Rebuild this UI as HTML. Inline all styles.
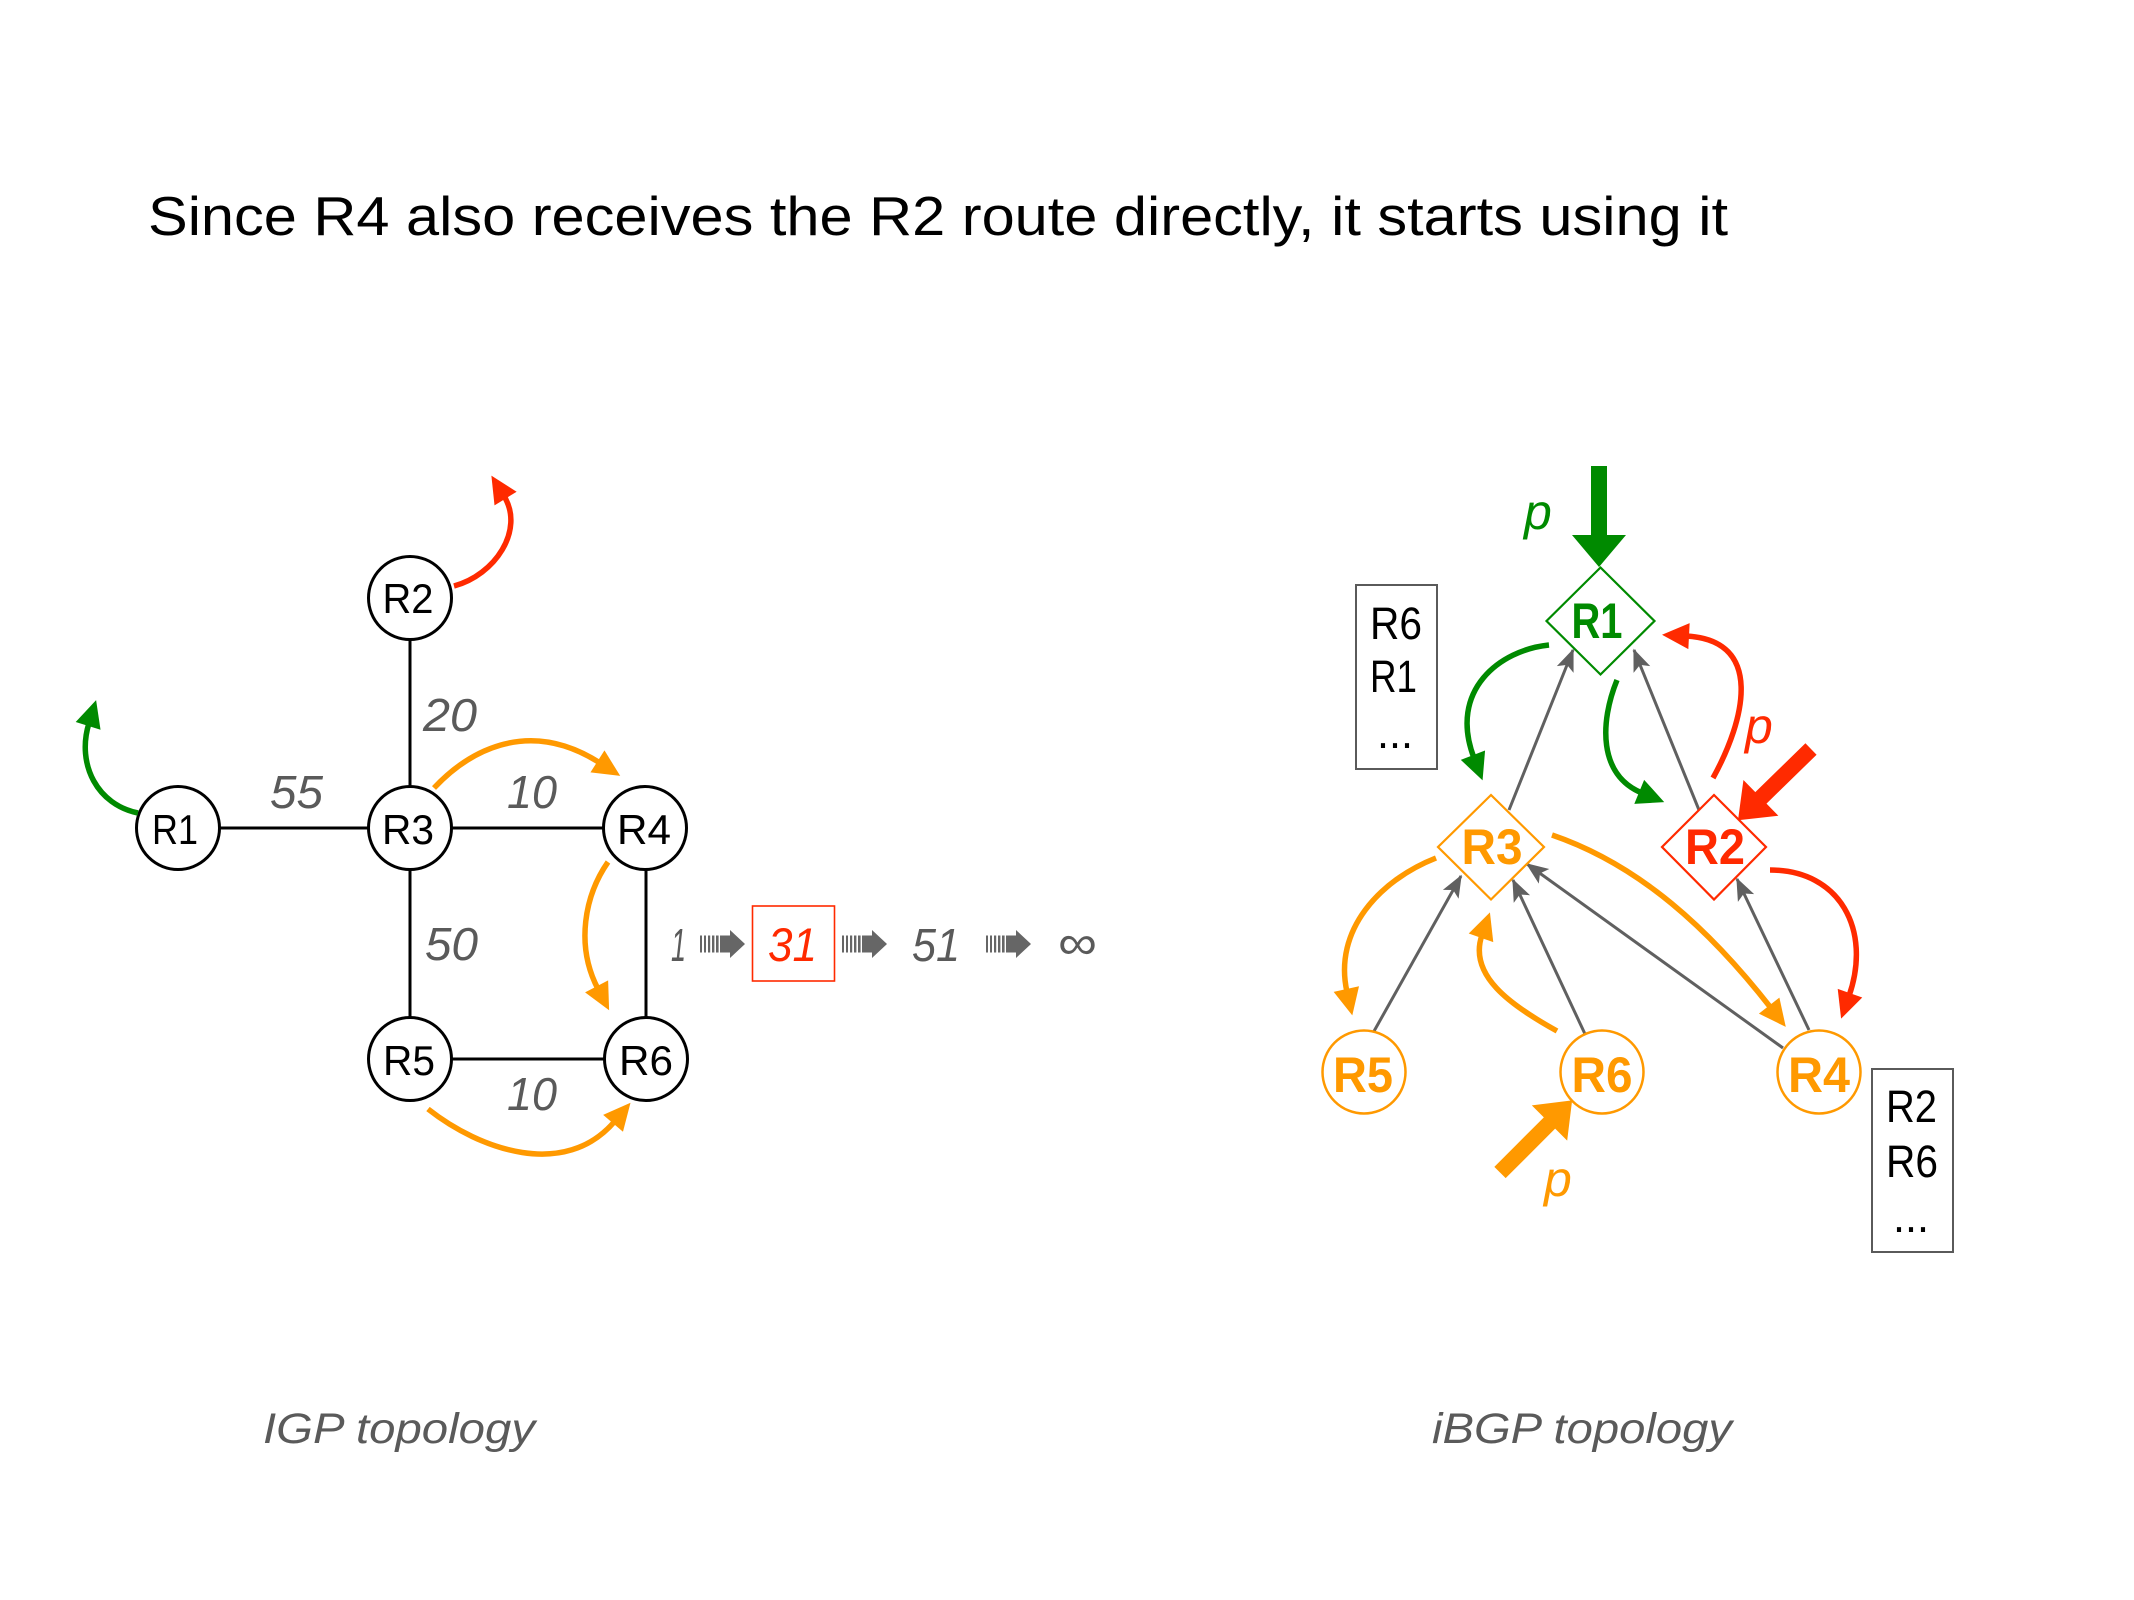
<!DOCTYPE html>
<html>
<head>
<meta charset="utf-8">
<style>
html,body{margin:0;padding:0;background:#fff;}
svg{display:block;}
text{font-family:"Liberation Sans",sans-serif;}
</style>
</head>
<body>
<svg width="2134" height="1600" viewBox="0 0 2134 1600" xmlns="http://www.w3.org/2000/svg">
<defs>
  <marker id="hO" markerUnits="userSpaceOnUse" markerWidth="60" markerHeight="60" refX="3" refY="0" orient="auto" overflow="visible"><path d="M0,-13 L27,0 L0,13 z" fill="#ff9900"/></marker>
  <marker id="hG" markerUnits="userSpaceOnUse" markerWidth="60" markerHeight="60" refX="3" refY="0" orient="auto" overflow="visible"><path d="M0,-13 L27,0 L0,13 z" fill="#008a00"/></marker>
  <marker id="hR" markerUnits="userSpaceOnUse" markerWidth="60" markerHeight="60" refX="3" refY="0" orient="auto" overflow="visible"><path d="M0,-13 L27,0 L0,13 z" fill="#ff2a00"/></marker>
  <marker id="hK" markerUnits="userSpaceOnUse" markerWidth="40" markerHeight="40" refX="0" refY="0" orient="auto" overflow="visible"><path d="M1.5,0 L-21,-9 L-16,0 L-21,9 z" fill="#606060"/></marker>
</defs>

<!-- Title -->
<text x="148" y="235" font-size="55" fill="#000" textLength="1580" lengthAdjust="spacingAndGlyphs">Since R4 also receives the R2 route directly, it starts using it</text>

<!-- ===== IGP topology ===== -->
<g stroke="#000" stroke-width="3" fill="none">
  <line x1="220" y1="828" x2="368" y2="828"/>
  <line x1="452" y1="828" x2="603" y2="828"/>
  <line x1="410" y1="640" x2="410" y2="786"/>
  <line x1="410" y1="870" x2="410" y2="1017"/>
  <line x1="646" y1="870" x2="646" y2="1017"/>
  <line x1="452" y1="1059" x2="604" y2="1059"/>
</g>
<g stroke="#000" stroke-width="3" fill="#fff">
  <circle cx="178" cy="828" r="41.5"/>
  <circle cx="410" cy="598" r="41.5"/>
  <circle cx="410" cy="828" r="41.5"/>
  <circle cx="645" cy="828" r="41.5"/>
  <circle cx="410" cy="1059" r="41.5"/>
  <circle cx="646" cy="1059" r="41.5"/>
</g>
<g font-size="42" fill="#000" text-anchor="middle">
  <text x="175" y="844" textLength="46" lengthAdjust="spacingAndGlyphs">R1</text>
  <text x="408" y="613" textLength="51" lengthAdjust="spacingAndGlyphs">R2</text>
  <text x="408" y="844" textLength="52" lengthAdjust="spacingAndGlyphs">R3</text>
  <text x="644" y="844" textLength="54" lengthAdjust="spacingAndGlyphs">R4</text>
  <text x="409" y="1075" textLength="52" lengthAdjust="spacingAndGlyphs">R5</text>
  <text x="646" y="1075" textLength="54" lengthAdjust="spacingAndGlyphs">R6</text>
</g>
<!-- edge weights -->
<g font-size="46" font-style="italic" fill="#5a5a5a">
  <text x="423" y="731" textLength="54" lengthAdjust="spacingAndGlyphs">20</text>
  <text x="270" y="808" textLength="53" lengthAdjust="spacingAndGlyphs">55</text>
  <text x="507" y="808" textLength="50" lengthAdjust="spacingAndGlyphs">10</text>
  <text x="425" y="960" textLength="53" lengthAdjust="spacingAndGlyphs">50</text>
  <text x="507" y="1110" textLength="50" lengthAdjust="spacingAndGlyphs">10</text>
</g>
<!-- IGP colored arrows -->
<g fill="none" stroke-width="5.5">
  <path d="M454 586 C 495 575, 525 530, 504 496" stroke="#ff2a00" marker-end="url(#hR)"/>
  <path d="M138 813 C 98 805, 76 765, 89 723" stroke="#008a00" marker-end="url(#hG)"/>
  <path d="M434 788 C 465 755, 525 715, 600 763" stroke="#ff9900" marker-end="url(#hO)"/>
  <path d="M608 862 C 585 895, 575 945, 598 989" stroke="#ff9900" marker-end="url(#hO)"/>
  <path d="M428 1109 C 480 1150, 565 1180, 615 1121" stroke="#ff9900" marker-end="url(#hO)"/>
</g>

<!-- sequence 1 => 31 => 51 => inf -->
<g font-size="46" font-style="italic" fill="#5a5a5a">
  <text x="671" y="961" textLength="15" lengthAdjust="spacingAndGlyphs">1</text>
  <text x="912" y="961" textLength="48" lengthAdjust="spacingAndGlyphs">51</text>
</g>
<text x="768" y="961" font-size="47" font-style="italic" fill="#ff2a00" textLength="49" lengthAdjust="spacingAndGlyphs">31</text>
<rect x="752.5" y="906" width="82" height="75" fill="none" stroke="#ff2a00" stroke-width="1.6"/>
<text x="1058" y="959" font-size="48" fill="#5a5a5a" textLength="39" lengthAdjust="spacingAndGlyphs">∞</text>
<g fill="#666">
  <g transform="translate(700,944)">
    <rect x="0" y="-8.5" width="2" height="17"/><rect x="4" y="-8.5" width="2" height="17"/><rect x="8" y="-8.5" width="2.2" height="17"/><rect x="12" y="-8.5" width="2.4" height="17"/><rect x="16" y="-8.5" width="2.6" height="17"/>
    <rect x="20" y="-8.5" width="10.5" height="17"/><path d="M30,-14 L45,0 L30,14 z"/>
  </g>
  <g transform="translate(842,944)">
    <rect x="0" y="-8.5" width="2" height="17"/><rect x="4" y="-8.5" width="2" height="17"/><rect x="8" y="-8.5" width="2.2" height="17"/><rect x="12" y="-8.5" width="2.4" height="17"/><rect x="16" y="-8.5" width="2.6" height="17"/>
    <rect x="20" y="-8.5" width="10.5" height="17"/><path d="M30,-14 L45,0 L30,14 z"/>
  </g>
  <g transform="translate(986,944)">
    <rect x="0" y="-8.5" width="2" height="17"/><rect x="4" y="-8.5" width="2" height="17"/><rect x="8" y="-8.5" width="2.2" height="17"/><rect x="12" y="-8.5" width="2.4" height="17"/><rect x="16" y="-8.5" width="2.6" height="17"/>
    <rect x="20" y="-8.5" width="10.5" height="17"/><path d="M30,-14 L45,0 L30,14 z"/>
  </g>
</g>

<!-- ===== iBGP topology ===== -->
<!-- gray session arrows -->
<g stroke="#606060" stroke-width="3" fill="none" marker-end="url(#hK)">
  <line x1="1509" y1="810" x2="1573" y2="650"/>
  <line x1="1699" y1="810" x2="1634" y2="650"/>
  <line x1="1373" y1="1033" x2="1461" y2="876"/>
  <line x1="1585" y1="1034" x2="1513" y2="880"/>
  <line x1="1783" y1="1048" x2="1527" y2="864"/>
  <line x1="1809" y1="1030" x2="1737" y2="879"/>
</g>

<!-- nodes -->
<polygon points="1600.5,567.5 1654.5,621 1600.5,674.5 1546.5,621" fill="#fff" stroke="#008a00" stroke-width="2.2"/>
<polygon points="1491,795 1544,847 1491,899.5 1438,847" fill="#fff" stroke="#ff9900" stroke-width="2.2"/>
<polygon points="1714,795 1766,847 1714,899.5 1662,847" fill="#fff" stroke="#ff2a00" stroke-width="2.2"/>
<g fill="#fff" stroke="#ff9900" stroke-width="2.5">
  <circle cx="1364" cy="1072" r="41.5"/>
  <circle cx="1602" cy="1072" r="41.5"/>
  <circle cx="1819" cy="1072" r="41.5"/>
</g>
<g font-size="50" font-weight="bold" text-anchor="middle">
  <text x="1597" y="638" fill="#008a00" textLength="51" lengthAdjust="spacingAndGlyphs">R1</text>
  <text x="1492" y="864" fill="#ff9900" textLength="61" lengthAdjust="spacingAndGlyphs">R3</text>
  <text x="1715" y="864" fill="#ff2a00" textLength="60" lengthAdjust="spacingAndGlyphs">R2</text>
  <text x="1363" y="1092" fill="#ff9900" textLength="60" lengthAdjust="spacingAndGlyphs">R5</text>
  <text x="1602" y="1092" fill="#ff9900" textLength="61" lengthAdjust="spacingAndGlyphs">R6</text>
  <text x="1819" y="1092" fill="#ff9900" textLength="62" lengthAdjust="spacingAndGlyphs">R4</text>
</g>

<!-- colored curved arrows -->
<g fill="none" stroke-width="5.5">
  <path d="M1549 645 C 1500 650, 1448 690, 1474 758" stroke="#008a00" marker-end="url(#hG)"/>
  <path d="M1617 680 C 1600 722, 1598 775, 1642 793" stroke="#008a00" marker-end="url(#hG)"/>
  <path d="M1713 778 C 1745 720, 1765 640, 1686 636" stroke="#ff2a00" marker-end="url(#hR)"/>
  <path d="M1770 870 C 1840 870, 1872 930, 1849 996" stroke="#ff2a00" marker-end="url(#hR)"/>
  <path d="M1436 858 C 1380 880, 1333 930, 1347 992" stroke="#ff9900" marker-end="url(#hO)"/>
  <path d="M1557 1031 C 1510 1005, 1468 975, 1482 935" stroke="#ff9900" marker-end="url(#hO)"/>
  <path d="M1552 835 C 1640 865, 1710 930, 1771 1008" stroke="#ff9900" marker-end="url(#hO)"/>
</g>

<!-- big injection arrows -->
<g>
  <path transform="translate(1599,466) rotate(90)" d="M0,-8 L69,-8 L69,-27 L101,0 L69,27 L69,8 L0,8 z" fill="#008a00"/>
  <path transform="translate(1811,749) rotate(135.7)" d="M0,-8 L70,-8 L70,-25 L102,0 L70,25 L70,8 L0,8 z" fill="#ff2a00"/>
  <path transform="translate(1500,1172.5) rotate(-45)" d="M0,-8 L70,-8 L70,-25 L102,0 L70,25 L70,8 L0,8 z" fill="#ff9900"/>
</g>
<g font-size="50" font-style="italic">
  <text x="1524" y="529" fill="#008a00">p</text>
  <text x="1745" y="743" fill="#ff2a00">p</text>
  <text x="1544" y="1196" fill="#ff9900">p</text>
</g>

<!-- RIB boxes -->
<rect x="1356" y="585" width="81" height="184" fill="none" stroke="#5a5a5a" stroke-width="2"/>
<g font-size="45" fill="#000">
  <text x="1370" y="639" textLength="52" lengthAdjust="spacingAndGlyphs">R6</text>
  <text x="1370" y="692" textLength="47" lengthAdjust="spacingAndGlyphs">R1</text>
  <text x="1377" y="748" textLength="36" lengthAdjust="spacingAndGlyphs">...</text>
</g>
<rect x="1872" y="1069" width="81" height="183" fill="none" stroke="#5a5a5a" stroke-width="2"/>
<g font-size="45" fill="#000">
  <text x="1886" y="1122" textLength="51" lengthAdjust="spacingAndGlyphs">R2</text>
  <text x="1886" y="1177" textLength="52" lengthAdjust="spacingAndGlyphs">R6</text>
  <text x="1893" y="1232" textLength="36" lengthAdjust="spacingAndGlyphs">...</text>
</g>

<!-- captions -->
<g font-size="43" font-style="italic" fill="#5a5a5a">
  <text x="263" y="1443" textLength="272" lengthAdjust="spacingAndGlyphs">IGP topology</text>
  <text x="1432" y="1443" textLength="300" lengthAdjust="spacingAndGlyphs">iBGP topology</text>
</g>
</svg>
</body>
</html>
